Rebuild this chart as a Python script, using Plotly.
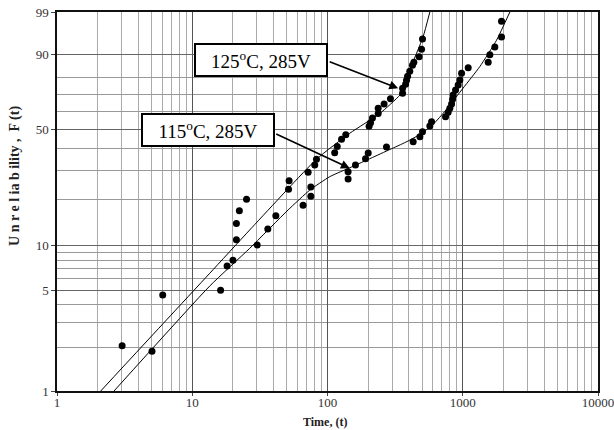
import numpy as np
import plotly.graph_objects as go

# ---------------- data (time, unreliability %) ----------------
t_125 = [3.03, 6.05, 21.2, 21.2, 22.3, 25.2, 51.5, 52.0, 71.9, 80.5, 82.9, 113, 118, 127,
         136.5, 203, 208, 215, 237, 237, 262, 292, 359, 359, 378, 384, 391, 406, 425,
         435, 476, 496, 504]
F_125 = [2.07, 4.63, 10.95, 14.0, 16.9, 20.0, 23.1, 26.0, 29.2, 32.2, 34.7, 37.7, 40.7, 44.5,
         46.9, 51.6, 53.6, 56.4, 59.1, 62.1, 64.7, 67.8, 71.0, 73.9, 76.1, 78.3, 80.4, 82.9, 85.7,
         87.0, 89.3, 92.0, 94.9]

t_115 = [5.04, 16.2, 18.1, 20.0, 30.2, 36.2, 41.5, 66.0, 75.3, 75.3, 142, 142, 161, 191,
         200, 273, 430, 482, 504, 571, 588, 746, 780, 803, 827, 841, 849, 885, 925, 952,
         980, 1097, 1542, 1586, 1727, 1935, 1935]
F_115 = [1.89, 5.0, 7.3, 8.0, 10.1, 12.9, 15.7, 18.3, 20.9, 23.8, 26.6, 29.4, 32.2, 34.9,
         37.6, 40.5, 43.2, 45.8, 48.6, 51.8, 54.2, 57.1, 59.8, 62.1, 64.7, 67.5, 70.0, 72.9, 75.7, 78.4,
         81.9, 84.6, 87.0, 90.0, 92.7, 95.4, 98.1]

fit125_t = [2.105, 6.45, 13.47, 26.6, 82.9, 146, 244, 343, 384, 406, 509, 571]
fit125_F = [1.0, 3.12, 6.52, 12.7, 34.7, 47.7, 59.1, 70.0, 77.5, 83.5, 95.4, 99.0]

fit115_t = [2.64, 13.47, 26.6, 51.1, 74, 104, 150, 210, 290, 380, 480, 600, 750, 1007, 1337, 1778, 2230]
fit115_F = [1.0, 5.34, 9.6, 17.1, 22.8, 27.5, 31.3, 35.2, 39.3, 43.0, 47.0, 52.5, 61.0, 74.0, 85.1, 94.6, 99.0]

y_labels = [1, 5, 10, 50, 90, 99]
y_grid = [1, 2, 3, 4, 5, 6, 7, 8, 9, 10, 20, 30, 40, 50, 60, 70, 80, 90, 99]
x_labels = [1, 10, 100, 1000, 10000]
x_grid = [m * d for d in (1, 10, 100, 1000) for m in range(2, 10)]

label_125 = "125<sup>o</sup>C, 285V"
label_115 = "115<sup>o</sup>C, 285V"


def wb(F):
    """Weibull probability-paper transform of unreliability in percent."""
    return np.log(-np.log(1 - np.asarray(F, dtype=float) / 100.0))


SERIF = "Liberation Serif"
fig = go.Figure()

for ft, fF in ((fit125_t, fit125_F), (fit115_t, fit115_F)):
    fig.add_trace(go.Scatter(x=ft, y=wb(fF), mode="lines",
                             line=dict(color="black", width=1, shape="spline", smoothing=0.5),
                             hoverinfo="skip", showlegend=False))

for tt, FF in ((t_125, F_125), (t_115, F_115)):
    fig.add_trace(go.Scatter(x=tt, y=wb(FF), mode="markers",
                             marker=dict(color="black", size=7, symbol="circle"),
                             showlegend=False))

fig.update_layout(
    width=614, height=430,
    margin=dict(l=57, r=16, t=12, b=39, autoexpand=False),
    paper_bgcolor="white", plot_bgcolor="white",
    font=dict(family=SERIF, color="#333", size=13),
    xaxis=dict(type="log", range=[0, 4], automargin=False,
               tickvals=x_labels, ticktext=[str(v) for v in x_labels],
               ticks="outside", ticklen=3, tickcolor="#444",
               ticklabeloverflow="allow", ticklabelstandoff=-4,
               showgrid=True, gridcolor="#555", gridwidth=1,
               minor=dict(tickvals=x_grid, showgrid=True, gridcolor="#aaa", gridwidth=1, ticks=""),
               showline=True, linecolor="#111", linewidth=1.5, mirror=True,
               zeroline=False, tickfont=dict(family=SERIF, size=13, color="#333")),
    yaxis=dict(range=[float(wb(1)), float(wb(99))], automargin=False,
               tickvals=list(wb(y_labels)), ticktext=[str(v) for v in y_labels],
               ticks="outside", ticklen=4, tickcolor="#444",
               showgrid=True, gridcolor="#666", gridwidth=1,
               minor=dict(tickvals=list(wb(y_grid)), showgrid=True, gridcolor="#999", gridwidth=1, ticks=""),
               showline=True, linecolor="#111", linewidth=1.5, mirror=True,
               zeroline=False, tickfont=dict(family=SERIF, size=13, color="#333")),
)

# boxed labels
for txt, px, py in ((label_125, 0.377, 0.874), (label_115, 0.2796, 0.6875)):
    fig.add_annotation(xref="paper", yref="paper", x=px, y=py, text=txt, showarrow=False,
                       font=dict(family=SERIF, size=19, color="black"),
                       bgcolor="white", bordercolor="black", borderwidth=2, borderpad=2,
                       width=126, height=26, xanchor="center", yanchor="middle")

# arrows
for th, Fh, ax, ay in ((333, 73.9, -70, -27), (146, 30.8, -75, -35)):
    fig.add_annotation(xref="x", yref="y", x=np.log10(th), y=float(wb(Fh)), text="",
                       showarrow=True, arrowhead=2, arrowsize=1.1, arrowwidth=1.6,
                       arrowcolor="black", ax=ax, ay=ay, standoff=0)

# axis titles
fig.add_annotation(xref="paper", yref="paper", x=0.495, y=-0.081, text="<b>Time, (t)</b>",
                   showarrow=False, font=dict(family=SERIF, size=12, color="#222"),
                   xanchor="center", yanchor="middle")
fig.add_annotation(xref="paper", yref="paper", x=-0.078, y=0.567,
                   text="<b>U n r e l ia b ility ,  F (t)</b>", textangle=-90,
                   showarrow=False, font=dict(family=SERIF, size=14, color="#222"),
                   xanchor="center", yanchor="middle")

fig.write_html("out.html", config={"displayModeBar": False},
               post_script="document.body.style.margin='0';document.body.style.padding='0';")
